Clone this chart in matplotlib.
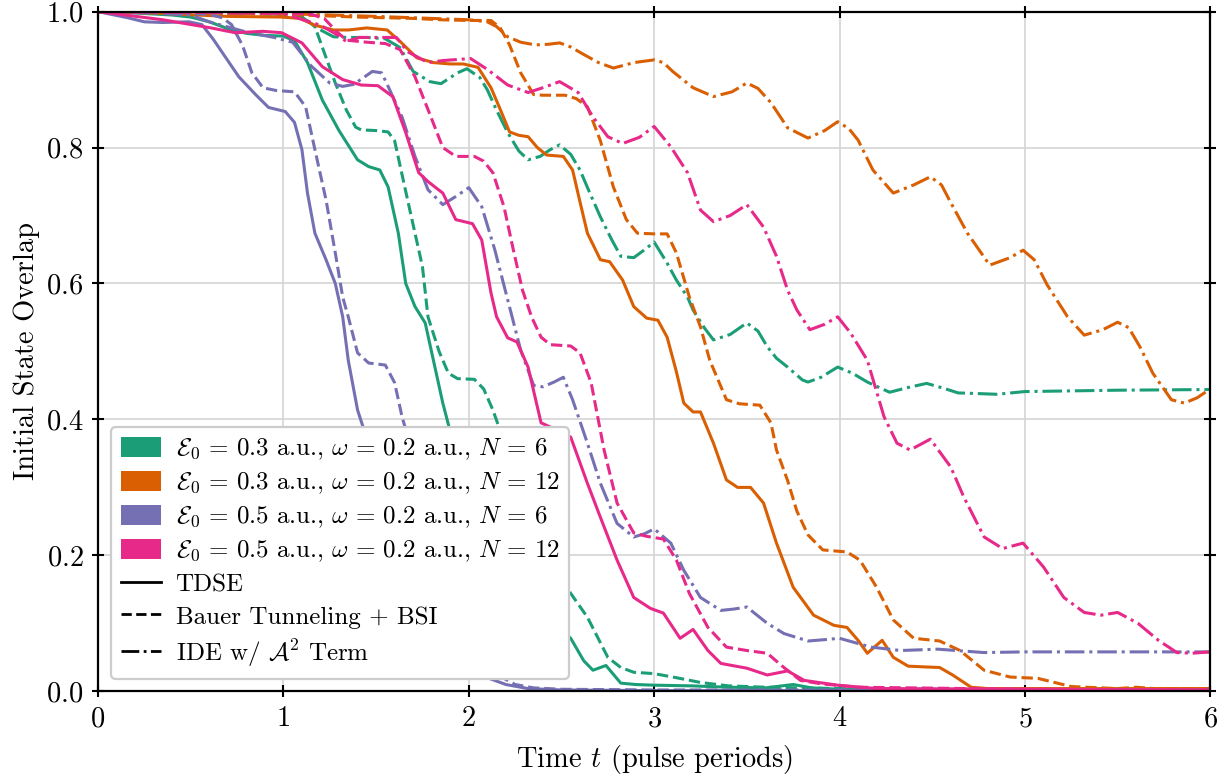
import numpy as np
import matplotlib.pyplot as plt
from matplotlib.patches import Patch
from matplotlib.lines import Line2D

plt.rcParams['font.family'] = 'serif'
plt.rcParams['font.serif'] = ['cmr10']
plt.rcParams['mathtext.fontset'] = 'cm'
plt.rcParams['axes.formatter.use_mathtext'] = True
plt.rcParams['font.size'] = 20.5

colors = ['#1b9e77', '#d95f02', '#7570b3', '#e7298a']
labels = [r'$\mathcal{E}_0\,=\,0.3$ a.u., $\omega\,=\,0.2$ a.u., $N\,=\,6$',
          r'$\mathcal{E}_0\,=\,0.3$ a.u., $\omega\,=\,0.2$ a.u., $N\,=\,12$',
          r'$\mathcal{E}_0\,=\,0.5$ a.u., $\omega\,=\,0.2$ a.u., $N\,=\,6$',
          r'$\mathcal{E}_0\,=\,0.5$ a.u., $\omega\,=\,0.2$ a.u., $N\,=\,12$']
methods = ['TDSE', 'Bauer Tunneling + BSI', r'IDE w/ $\mathcal{A}^2$ Term']
styles = ['-', '--', '-.']

# E0=0.3, N=6
t_g_tdse = [0, 0.2, 0.4, 0.5, 0.6, 0.7, 0.8, 0.9, 1.0, 1.06, 1.13, 1.21, 1.3, 1.4, 1.46, 1.52, 1.565, 1.62, 1.66, 1.71, 1.765, 1.86, 1.95, 2.05, 2.15, 2.25, 2.35, 2.45, 2.55, 2.62, 2.67, 2.74, 2.82, 2.9, 3.0, 3.2, 3.4, 3.6, 3.75, 3.85, 4.0, 4.5, 5.0, 6.0]
y_g_tdse = [1.0, 0.998, 0.995, 0.992, 0.985, 0.975, 0.968, 0.965, 0.964, 0.957, 0.925, 0.87, 0.825, 0.782, 0.772, 0.767, 0.742, 0.674, 0.60, 0.566, 0.542, 0.424, 0.33, 0.25, 0.19, 0.15, 0.12, 0.10, 0.078, 0.045, 0.031, 0.038, 0.012, 0.01, 0.009, 0.008, 0.006, 0.005, 0.01, 0.005, 0.003, 0.002, 0.002, 0.002]
t_g_bauer = [0, 0.5, 0.9, 1.1, 1.17, 1.22, 1.28, 1.34, 1.39, 1.42, 1.5, 1.565, 1.6, 1.67, 1.75, 1.78, 1.84, 1.89, 1.94, 2.03, 2.08, 2.13, 2.2, 2.3, 2.4, 2.5, 2.55, 2.64, 2.75, 2.82, 2.89, 3.0, 3.12, 3.25, 3.4, 3.6, 4.0, 4.5, 6.0]
y_g_bauer = [1.0, 0.999, 0.997, 0.993, 0.978, 0.94, 0.895, 0.855, 0.83, 0.826, 0.825, 0.823, 0.81, 0.723, 0.625, 0.551, 0.50, 0.468, 0.46, 0.459, 0.445, 0.414, 0.36, 0.29, 0.22, 0.17, 0.144, 0.109, 0.05, 0.035, 0.028, 0.026, 0.02, 0.013, 0.008, 0.006, 0.004, 0.003, 0.003]
t_g_ide = [0, 0.5, 1.0, 1.1, 1.18, 1.27, 1.35, 1.45, 1.55, 1.63, 1.70, 1.79, 1.85, 1.94, 1.99, 2.06, 2.10, 2.15, 2.21, 2.27, 2.32, 2.385, 2.44, 2.49, 2.55, 2.60, 2.65, 2.71, 2.77, 2.82, 2.89, 2.95, 3.0, 3.07, 3.12, 3.18, 3.21, 3.27, 3.32, 3.41, 3.50, 3.56, 3.61, 3.66, 3.72, 3.80, 3.83, 3.90, 3.99, 4.07, 4.15, 4.27, 4.37, 4.47, 4.56, 4.64, 4.75, 4.85, 5.0, 5.5, 6.0]
y_g_ide = [1.0, 0.999, 0.996, 0.992, 0.976, 0.963, 0.962, 0.962, 0.96, 0.947, 0.912, 0.897, 0.894, 0.91, 0.916, 0.903, 0.885, 0.855, 0.822, 0.795, 0.782, 0.787, 0.797, 0.804, 0.79, 0.767, 0.735, 0.698, 0.665, 0.64, 0.638, 0.65, 0.661, 0.63, 0.605, 0.58, 0.561, 0.535, 0.517, 0.525, 0.542, 0.53, 0.507, 0.49, 0.477, 0.458, 0.455, 0.462, 0.477, 0.468, 0.455, 0.44, 0.447, 0.453, 0.446, 0.439, 0.438, 0.437, 0.441, 0.443, 0.444]

# E0=0.3, N=12
t_o_tdse = [0, 0.3, 0.7, 0.99, 1.09, 1.17, 1.27, 1.35, 1.45, 1.56, 1.63, 1.72, 1.81, 1.9, 1.97, 2.05, 2.12, 2.17, 2.22, 2.27, 2.32, 2.37, 2.42, 2.51, 2.56, 2.60, 2.64, 2.71, 2.76, 2.83, 2.89, 2.96, 3.02, 3.07, 3.12, 3.16, 3.21, 3.25, 3.32, 3.39, 3.45, 3.52, 3.59, 3.66, 3.75, 3.86, 3.97, 4.04, 4.10, 4.15, 4.23, 4.29, 4.37, 4.45, 4.54, 4.61, 4.66, 4.71, 4.8, 5.0, 6.0]
y_o_tdse = [1.0, 0.998, 0.993, 0.992, 0.99, 0.98, 0.973, 0.973, 0.976, 0.973, 0.956, 0.932, 0.925, 0.923, 0.923, 0.918, 0.888, 0.856, 0.823, 0.818, 0.816, 0.80, 0.789, 0.787, 0.767, 0.72, 0.674, 0.635, 0.632, 0.605, 0.566, 0.549, 0.546, 0.521, 0.47, 0.424, 0.411, 0.411, 0.365, 0.311, 0.30, 0.30, 0.277, 0.218, 0.153, 0.112, 0.097, 0.094, 0.075, 0.056, 0.075, 0.05, 0.037, 0.036, 0.035, 0.024, 0.015, 0.006, 0.004, 0.004, 0.004]
t_o_bauer = [0, 0.5, 1.0, 1.4, 1.7, 1.85, 2.0, 2.12, 2.17, 2.22, 2.28, 2.35, 2.4, 2.52, 2.58, 2.64, 2.71, 2.78, 2.85, 2.91, 3.0, 3.07, 3.12, 3.19, 3.25, 3.30, 3.39, 3.46, 3.57, 3.63, 3.66, 3.72, 3.77, 3.83, 3.91, 4.04, 4.11, 4.20, 4.29, 4.40, 4.54, 4.65, 4.78, 4.92, 5.07, 5.25, 5.5, 5.6, 5.7, 6.0]
y_o_bauer = [1.0, 0.999, 0.996, 0.992, 0.99, 0.988, 0.987, 0.987, 0.976, 0.951, 0.91, 0.878, 0.877, 0.877, 0.872, 0.86, 0.81, 0.742, 0.694, 0.674, 0.673, 0.673, 0.645, 0.58, 0.536, 0.487, 0.429, 0.423, 0.421, 0.395, 0.355, 0.31, 0.265, 0.23, 0.208, 0.205, 0.193, 0.153, 0.105, 0.078, 0.074, 0.06, 0.031, 0.021, 0.019, 0.007, 0.004, 0.006, 0.004, 0.004]
t_o_ide = [0, 0.5, 1.0, 1.5, 1.8, 2.0, 2.1, 2.15, 2.21, 2.28, 2.36, 2.43, 2.49, 2.55, 2.62, 2.7, 2.78, 2.85, 2.89, 3.0, 3.05, 3.10, 3.21, 3.32, 3.42, 3.50, 3.56, 3.63, 3.72, 3.83, 3.92, 3.99, 4.05, 4.10, 4.18, 4.29, 4.40, 4.49, 4.55, 4.60, 4.69, 4.81, 4.92, 4.99, 5.05, 5.12, 5.23, 5.32, 5.42, 5.50, 5.56, 5.62, 5.69, 5.79, 5.86, 5.93, 6.0]
y_o_ide = [1.0, 0.999, 0.997, 0.993, 0.99, 0.988, 0.985, 0.978, 0.963, 0.955, 0.951, 0.952, 0.954, 0.948, 0.937, 0.925, 0.917, 0.922, 0.925, 0.929, 0.925, 0.912, 0.888, 0.875, 0.882, 0.895, 0.887, 0.866, 0.829, 0.814, 0.825, 0.838, 0.828, 0.811, 0.767, 0.733, 0.745, 0.757, 0.745, 0.719, 0.674, 0.627, 0.638, 0.649, 0.635, 0.598, 0.551, 0.524, 0.532, 0.543, 0.535, 0.507, 0.468, 0.429, 0.424, 0.432, 0.445]

# E0=0.5, N=6
t_p_tdse = [0, 0.16, 0.25, 0.35, 0.49, 0.56, 0.62, 0.67, 0.76, 0.85, 0.92, 1.01, 1.06, 1.10, 1.13, 1.17, 1.23, 1.28, 1.32, 1.35, 1.40, 1.5, 1.6, 1.7, 1.8, 1.9, 2.0, 2.1, 2.2, 2.32, 2.5, 3.0, 6.0]
y_p_tdse = [1.0, 0.991, 0.985, 0.984, 0.985, 0.981, 0.96, 0.94, 0.904, 0.878, 0.859, 0.853, 0.837, 0.797, 0.733, 0.674, 0.635, 0.60, 0.551, 0.487, 0.414, 0.33, 0.24, 0.16, 0.10, 0.06, 0.035, 0.02, 0.01, 0.004, 0.002, 0.001, 0.001]
t_p_bauer = [0, 0.4, 0.6, 0.67, 0.72, 0.78, 0.83, 0.89, 0.96, 1.06, 1.12, 1.17, 1.23, 1.28, 1.32, 1.35, 1.40, 1.46, 1.55, 1.60, 1.64, 1.75, 1.85, 1.95, 2.05, 2.15, 2.25, 2.35, 2.5, 3.0, 6.0]
y_p_bauer = [1.0, 0.999, 0.996, 0.991, 0.981, 0.95, 0.91, 0.888, 0.884, 0.882, 0.86, 0.797, 0.723, 0.645, 0.58, 0.551, 0.498, 0.483, 0.48, 0.454, 0.404, 0.30, 0.20, 0.12, 0.06, 0.025, 0.01, 0.005, 0.003, 0.002, 0.002]
t_p_ide = [0, 0.3, 0.5, 0.6, 0.8, 0.95, 1.05, 1.15, 1.25, 1.32, 1.38, 1.48, 1.53, 1.565, 1.64, 1.71, 1.78, 1.86, 1.93, 2.0, 2.07, 2.14, 2.21, 2.28, 2.35, 2.40, 2.46, 2.51, 2.56, 2.64, 2.71, 2.80, 2.89, 2.95, 3.0, 3.09, 3.16, 3.25, 3.36, 3.43, 3.50, 3.61, 3.70, 3.83, 3.92, 4.0, 4.17, 4.33, 4.53, 4.78, 5.0, 5.5, 6.0]
y_p_ide = [1.0, 0.998, 0.995, 0.985, 0.97, 0.962, 0.955, 0.92, 0.895, 0.89, 0.893, 0.912, 0.91, 0.89, 0.845, 0.787, 0.738, 0.716, 0.728, 0.741, 0.713, 0.65, 0.576, 0.502, 0.45, 0.448, 0.455, 0.462, 0.429, 0.365, 0.306, 0.247, 0.227, 0.232, 0.239, 0.218, 0.178, 0.138, 0.119, 0.121, 0.124, 0.10, 0.085, 0.074, 0.076, 0.078, 0.065, 0.06, 0.062, 0.057, 0.058, 0.058, 0.058]

# E0=0.5, N=12
t_k_tdse = [0, 0.35, 0.61, 0.74, 0.89, 0.99, 1.10, 1.21, 1.32, 1.42, 1.51, 1.59, 1.66, 1.73, 1.78, 1.86, 1.93, 2.02, 2.07, 2.12, 2.15, 2.21, 2.26, 2.32, 2.39, 2.47, 2.55, 2.64, 2.71, 2.80, 2.89, 2.98, 3.05, 3.14, 3.21, 3.29, 3.36, 3.50, 3.61, 3.72, 3.81, 3.99, 4.2, 5.0, 6.0]
y_k_tdse = [1.0, 0.988, 0.976, 0.969, 0.971, 0.969, 0.954, 0.919, 0.90, 0.892, 0.891, 0.875, 0.822, 0.763, 0.75, 0.733, 0.694, 0.688, 0.664, 0.586, 0.551, 0.52, 0.514, 0.477, 0.395, 0.385, 0.374, 0.306, 0.256, 0.193, 0.138, 0.122, 0.115, 0.078, 0.091, 0.06, 0.041, 0.034, 0.024, 0.03, 0.016, 0.009, 0.004, 0.003, 0.002]
t_k_bauer = [0, 0.5, 1.0, 1.15, 1.22, 1.29, 1.34, 1.45, 1.55, 1.63, 1.71, 1.78, 1.86, 1.93, 2.03, 2.08, 2.13, 2.19, 2.24, 2.29, 2.34, 2.39, 2.44, 2.55, 2.60, 2.66, 2.73, 2.80, 2.89, 2.96, 3.05, 3.12, 3.19, 3.29, 3.39, 3.50, 3.61, 3.70, 3.79, 3.9, 4.1, 5.0, 6.0]
y_k_bauer = [1.0, 0.999, 0.998, 0.996, 0.99, 0.97, 0.958, 0.955, 0.953, 0.944, 0.904, 0.856, 0.80, 0.787, 0.787, 0.78, 0.763, 0.713, 0.65, 0.59, 0.55, 0.521, 0.51, 0.508, 0.498, 0.454, 0.355, 0.277, 0.233, 0.228, 0.224, 0.193, 0.144, 0.094, 0.065, 0.06, 0.056, 0.035, 0.016, 0.011, 0.006, 0.003, 0.002]
t_k_ide = [0, 0.5, 1.0, 1.2, 1.29, 1.34, 1.41, 1.61, 1.67, 1.78, 1.86, 2.01, 2.10, 2.21, 2.32, 2.41, 2.49, 2.59, 2.67, 2.75, 2.83, 2.92, 3.0, 3.09, 3.18, 3.25, 3.32, 3.41, 3.50, 3.59, 3.66, 3.72, 3.77, 3.84, 3.92, 3.99, 4.06, 4.15, 4.24, 4.31, 4.38, 4.49, 4.60, 4.67, 4.78, 4.88, 4.99, 5.10, 5.21, 5.32, 5.41, 5.50, 5.61, 5.72, 5.82, 5.9, 6.0]
y_k_ide = [1.0, 0.999, 0.997, 0.98, 0.966, 0.956, 0.962, 0.962, 0.941, 0.925, 0.928, 0.931, 0.915, 0.892, 0.881, 0.889, 0.897, 0.881, 0.845, 0.816, 0.806, 0.815, 0.831, 0.801, 0.763, 0.708, 0.691, 0.70, 0.716, 0.683, 0.64, 0.59, 0.561, 0.532, 0.54, 0.551, 0.527, 0.487, 0.404, 0.365, 0.355, 0.371, 0.33, 0.286, 0.227, 0.21, 0.218, 0.183, 0.138, 0.116, 0.112, 0.116, 0.10, 0.075, 0.057, 0.056, 0.058]

series = [
    [(t_g_tdse, y_g_tdse), (t_g_bauer, y_g_bauer), (t_g_ide, y_g_ide)],
    [(t_o_tdse, y_o_tdse), (t_o_bauer, y_o_bauer), (t_o_ide, y_o_ide)],
    [(t_p_tdse, y_p_tdse), (t_p_bauer, y_p_bauer), (t_p_ide, y_p_ide)],
    [(t_k_tdse, y_k_tdse), (t_k_bauer, y_k_bauer), (t_k_ide, y_k_ide)],
]

fig = plt.figure(figsize=(12.25, 7.75), dpi=100)
ax = fig.add_axes([0.08, 0.108, 0.908, 0.877])

for c, group in zip(colors, series):
    for ls, (t, y) in zip(styles, group):
        ax.plot(t, y, color=c, ls=ls, lw=2.2, solid_joinstyle='round', dash_joinstyle='round')

ax.set_xlim(0, 6)
ax.set_ylim(0, 1)
ax.set_xlabel(r'Time $t$ (pulse periods)', labelpad=8)
ax.set_ylabel('Initial State Overlap')
ax.grid(color='#d4d4d4', lw=1.2)
ax.set_axisbelow(True)
ax.tick_params(direction='inout', length=9, width=1.5, top=True, right=True, pad=6)
for s in ax.spines.values():
    s.set_linewidth(1.6)

handles = [Patch(facecolor=c, label=l) for c, l in zip(colors, labels)]
handles += [Line2D([], [], color='k', ls=ls, lw=2.0, label=m) for ls, m in zip(styles, methods)]
leg = ax.legend(handles=handles, loc='lower left', framealpha=1, edgecolor='#cccccc',
                fancybox=True, handleheight=0.85, handlelength=1.6, handletextpad=0.6,
                fontsize=18, labelspacing=0.34)
leg.get_frame().set_linewidth(1.6)

fig.savefig('out.png', dpi=100)
